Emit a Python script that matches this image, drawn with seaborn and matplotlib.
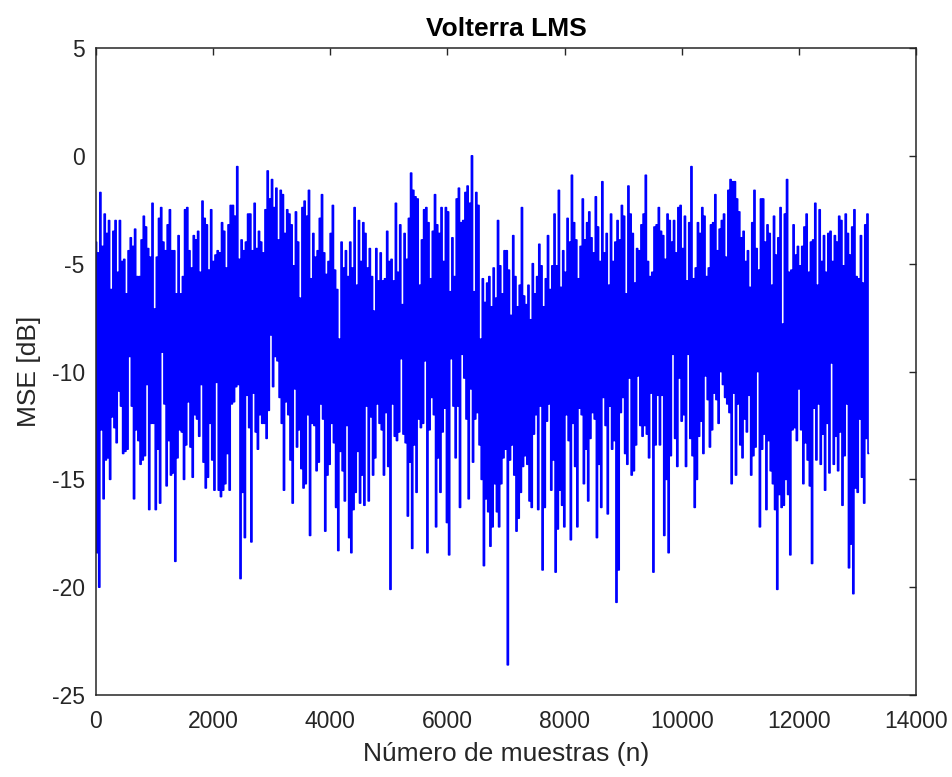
import numpy as np
import pandas as pd
import matplotlib
matplotlib.use("Agg")
import matplotlib.pyplot as plt
import seaborn as sns

# Learning curve of the Volterra LMS filter: per block of samples, the largest
# and smallest instantaneous MSE value (dB).
n_samples = 13190

mse_peak_db = [
    # 0 .. ~2340
    -4.0, -4.5, -1.7, -4.2, -2.7, -3.6, -3.0, -6.2, -3.5, -3.0,
    -5.4, -3.0, -4.9, -4.8, -6.4, -4.4, -3.8, -4.2, -3.4, -5.6,
    -5.6, -3.9, -2.8, -3.3, -4.3, -4.7, -2.2, -7.1, -4.7, -2.9,
    -2.4, -4.0, -4.4, -3.2, -2.5, -4.4, -4.4, -6.4, -3.7, -6.4,
    -5.6, -2.5, -2.4, -4.4, -5.2, -3.7, -3.9, -3.5, -5.4, -2.1,
    -2.9, -3.2, -5.3, -2.5, -4.9, -4.6, -4.4, -4.5, -3.1, -3.5,
    -5.2, -3.2, -2.3,
    # ~2340 .. ~4690
    -2.3, -2.8, -0.5, -4.8, -3.9, -4.4, -4.0, -2.7, -2.7, -4.4,
    -2.2, -4.3, -3.5, -4.0, -4.5, -2.5, -0.7, -2.0, -1.1, -2.4,
    -1.5, -3.9, -1.6, -1.8, -3.6, -2.5, -2.7, -3.2, -5.1, -2.6,
    -4.0, -6.6, -2.4, -2.1, -2.8, -1.6, -5.7, -3.6, -4.7, -4.4,
    -2.9, -1.8, -4.5, -5.5, -4.9, -3.6, -2.3, -5.3, -6.2, -8.5,
    -4.0, -5.2, -4.4, -5.6, -4.0, -5.2, -2.4, -6.0, -3.0, -4.9,
    -3.1, -3.6, -5.2,
    # ~4690 .. ~7030
    -4.3, -5.6, -7.2, -4.3, -5.8, -4.5, -5.8, -5.7, -3.5, -4.9,
    -4.8, -5.8, -2.2, -5.4, -3.2, -6.9, -3.6, -4.8, -2.9, -0.8,
    -1.6, -1.9, -2.0, -6.0, -3.9, -2.5, -2.4, -3.1, -5.7, -3.5,
    -1.8, -3.2, -3.6, -2.4, -4.9, -2.4, -2.6, -6.3, -3.8, -5.6,
    -2.0, -1.5, -3.1, -3.0, -1.7, -1.4, -2.2, 0.0, -6.3, -1.7,
    -2.3, -8.5, -5.7, -6.8, -5.9, -5.6, -7.0, -5.2, -6.6, -3.0,
    -5.1, -6.4, -4.4,
    # ~7030 .. ~9370
    -4.4, -5.3, -7.4, -3.7, -5.6, -7.0, -6.0, -2.4, -6.5, -6.9,
    -6.0, -7.6, -5.0, -6.4, -5.6, -4.1, -5.1, -7.0, -5.7, -3.7,
    -6.2, -5.1, -2.7, -5.1, -1.6, -6.1, -4.4, -5.4, -2.9, -4.0,
    -0.9, -3.1, -3.9, -5.7, -4.2, -2.0, -3.9, -3.1, -2.6, -3.8,
    -4.5, -1.9, -3.3, -4.9, -1.2, -4.5, -3.6, -6.0, -2.7, -4.9,
    -4.0, -3.0, -3.9, -2.3, -2.8, -6.4, -1.4, -2.7, -3.6, -5.9,
    -4.3, -4.4, -3.2,
    # ~9370 .. ~11710
    -2.7, -0.9, -4.9, -5.6, -5.4, -3.3, -3.2, -2.4, -3.5, -3.7,
    -4.8, -2.7, -3.0, -4.0, -3.0, -4.5, -2.4, -2.3, -4.3, -2.8,
    -5.8, -3.1, -0.5, -5.7, -5.2, -3.1, -3.6, -2.4, -2.8, -5.6,
    -5.2, -3.2, -3.1, -1.8, -4.4, -3.4, -3.0, -2.7, -4.7, -1.6,
    -1.1, -1.2, -1.2, -2.0, -2.6, -3.8, -3.5, -4.9, -4.4, -6.1,
    -3.1, -1.6, -4.3, -5.3, -2.0, -2.0, -4.0, -3.2, -3.6, -6.0,
    -2.8, -4.6, -3.8,
    # ~11710 .. end
    -2.4, -7.8, -2.7, -1.1, -5.4, -5.3, -3.2, -4.6, -4.2, -5.1,
    -4.2, -3.3, -2.7, -5.4, -4.0, -3.9, -2.2, -6.0, -2.5, -4.9,
    -3.7, -5.4, -3.6, -3.5, -4.9, -3.7, -4.0, -2.8, -3.0, -5.1,
    -2.7, -3.6, -4.6, -3.3, -2.5, -5.6, -5.7, -3.7, -5.9, -3.2,
    -2.7,
]

mse_floor_db = [
    # 0 .. ~2340
    -18.4, -20.0, -12.7, -15.9, -14.1, -14.0, -15.0, -12.1, -12.6, -13.3,
    -10.9, -11.6, -13.8, -13.7, -13.6, -9.3, -11.6, -15.9, -12.7, -13.2,
    -14.3, -14.1, -13.9, -10.6, -16.4, -12.4, -12.4, -16.4, -13.6, -16.1,
    -9.1, -11.5, -15.3, -13.2, -14.8, -14.7, -18.8, -14.0, -12.7, -12.8,
    -15.0, -13.4, -11.4, -13.5, -14.9, -12.0, -12.2, -13.0, -10.6, -14.2,
    -15.4, -14.9, -12.4, -14.1, -15.5, -10.5, -15.5, -15.8, -15.5, -15.2,
    -13.8, -15.5, -11.5,
    # ~2340 .. ~4690
    -11.4, -10.7, -10.6, -19.6, -15.6, -17.7, -11.1, -12.6, -17.9, -11.0,
    -12.8, -13.6, -12.0, -12.4, -12.4, -13.1, -11.8, -8.3, -10.7, -9.3,
    -9.5, -11.2, -12.4, -15.5, -11.4, -12.0, -14.1, -16.1, -10.8, -13.5,
    -12.7, -14.5, -15.4, -15.2, -12.0, -17.6, -12.4, -12.5, -14.6, -14.2,
    -11.5, -12.2, -17.4, -14.8, -14.3, -12.4, -13.3, -16.3, -18.3, -13.7,
    -14.6, -16.0, -12.5, -17.7, -18.4, -16.4, -15.6, -13.7, -16.1, -14.8,
    -16.2, -11.6, -16.0,
    # ~4690 .. ~7030
    -12.1, -14.8, -14.0, -11.5, -12.4, -12.7, -14.8, -11.9, -14.4, -20.1,
    -11.5, -13.0, -13.2, -12.8, -9.4, -12.9, -13.3, -16.7, -14.2, -18.2,
    -13.4, -15.6, -12.2, -12.6, -12.4, -9.5, -18.4, -12.7, -11.2, -12.0,
    -17.2, -14.0, -15.6, -12.8, -11.7, -17.0, -18.5, -9.4, -11.6, -14.0,
    -11.6, -16.3, -9.2, -10.3, -12.2, -15.9, -10.8, -14.2, -12.2, -11.9,
    -13.4, -15.0, -19.0, -15.9, -16.5, -18.1, -17.2, -15.2, -16.5, -17.2,
    -15.2, -14.0, -13.6,
    # ~7030 .. ~9370
    -23.6, -14.1, -13.4, -14.8, -17.4, -16.8, -15.6, -14.4, -13.9, -14.3,
    -16.0, -16.3, -12.9, -12.0, -16.4, -11.6, -19.2, -16.3, -12.3, -11.5,
    -15.5, -14.1, -19.3, -17.3, -15.5, -16.2, -17.2, -12.0, -13.2, -17.8,
    -12.4, -14.4, -17.2, -11.7, -12.0, -15.2, -13.6, -16.0, -13.1, -11.9,
    -12.2, -17.7, -14.3, -16.3, -11.2, -12.5, -16.6, -11.6, -13.6, -13.2,
    -20.7, -19.2, -11.9, -11.2, -13.8, -14.3, -10.3, -14.8, -14.6, -13.4,
    -10.2, -12.5, -13.0,
    # ~9370 .. ~11710
    -12.5, -12.9, -14.0, -11.0, -19.3, -13.4, -11.1, -13.4, -11.1, -17.6,
    -15.0, -18.4, -13.9, -9.2, -13.1, -14.4, -10.3, -12.3, -12.0, -14.4,
    -9.2, -13.1, -13.9, -16.3, -15.0, -13.0, -12.3, -13.8, -10.2, -11.3,
    -13.5, -12.7, -11.0, -11.3, -12.4, -10.0, -10.6, -11.2, -11.5, -11.9,
    -15.2, -11.0, -14.8, -11.5, -13.4, -14.0, -12.2, -12.8, -11.1, -14.8,
    -13.9, -13.5, -10.0, -17.2, -13.6, -12.9, -16.4, -13.2, -14.6, -15.2,
    -16.4, -20.1, -15.7,
    # ~11710 .. end
    -16.3, -16.2, -15.0, -15.7, -18.5, -12.7, -12.6, -13.2, -10.8, -12.7,
    -15.2, -13.3, -14.1, -15.3, -18.9, -11.7, -14.1, -11.5, -14.3, -12.9,
    -15.5, -12.4, -14.7, -9.6, -14.3, -13.0, -14.6, -12.8, -16.2, -13.9,
    -11.5, -19.1, -18.0, -20.3, -15.4, -15.6, -12.2, -14.9, -16.1, -13.1,
    -13.8,
]

x_ticks = [0, 2000, 4000, 6000, 8000, 10000, 12000, 14000]
y_ticks = [-25, -20, -15, -10, -5, 0, 5]

# Interleave block maxima and minima into one sample sequence
mse = np.column_stack([mse_peak_db, mse_floor_db]).ravel()
n = np.linspace(1, n_samples, mse.size)
df = pd.DataFrame({"n": n, "mse": mse})

sns.set_style("white")
plt.rcParams["font.family"] = ["Liberation Sans", "DejaVu Sans"]
plt.rcParams["axes.unicode_minus"] = False
# keep every vertex of the dense trace
plt.rcParams["path.simplify"] = False

axis_gray = "#262626"
fig = plt.figure(figsize=(9.52, 7.77), dpi=100)
ax = fig.add_axes([0.1008, 0.1055, 0.8614, 0.8327])

sns.lineplot(data=df, x="n", y="mse", ax=ax, color="#0000ff", linewidth=1.2,
             estimator=None, sort=False, drawstyle="steps-mid")
for line in ax.lines:
    line.set_snap(False)
    line.set_antialiased(True)

ax.set_xlim(0, 14000)
ax.set_ylim(-25, 5)
ax.set_xticks(x_ticks)
ax.set_yticks(y_ticks)
ax.set_xticklabels([str(v) for v in x_ticks])
ax.set_yticklabels([str(v) for v in y_ticks])

for side in ["left", "right", "top", "bottom"]:
    ax.spines[side].set_visible(True)
    ax.spines[side].set_color(axis_gray)
    ax.spines[side].set_linewidth(1.1)

ax.tick_params(axis="both", direction="in", top=True, right=True,
               length=5, width=1.0, color=axis_gray, labelcolor=axis_gray,
               labelsize=16.5)
ax.tick_params(axis="x", pad=11)
ax.tick_params(axis="y", pad=8)

ax.set_xlabel("Número de muestras (n)", fontsize=19, color=axis_gray, labelpad=6)
ax.set_ylabel("MSE [dB]", fontsize=19, color=axis_gray, labelpad=8)
ax.set_title("Volterra LMS", fontsize=19, fontweight="bold", color="black", pad=9)

fig.savefig("out.png", dpi=100)
